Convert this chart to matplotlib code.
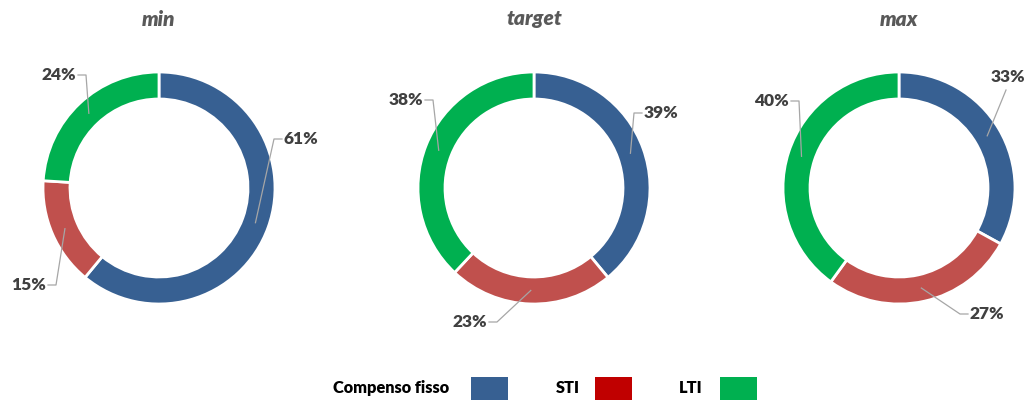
import numpy as np
import matplotlib.pyplot as plt
from matplotlib.patches import Rectangle

plt.rcParams['font.family'] = ['Lato', 'DejaVu Sans']

titoli = ['min', 'target', 'max']
categorie = ['Compenso fisso', 'STI', 'LTI']
valori = {
    'min': [61, 15, 24],
    'target': [39, 23, 38],
    'max': [33, 27, 40],
}
colori = ['#376092', '#C0504D', '#00B050']
colori_legenda = ['#376092', '#C00000', '#00B050']

W, H = 1030, 405
centri_x = [159, 534, 899]
cy = 188
R = 116
spessore = 27

# posizione del gomito della linea guida e lato del testo (coordinate immagine)
gomiti = {
    'min': [(274, 139, 'l'), (56, 285, 'r'), (86, 75, 'r')],
    'target': [(634, 113, 'l'), (497, 322, 'r'), (433, 100, 'r')],
    'max': [(1006, 90, 'c'), (960, 314, 'l'), (799, 101, 'r')],
}

fig = plt.figure(figsize=(W / 100, H / 100), dpi=100)
ax = fig.add_axes([0, 0, 1, 1])
ax.set_xlim(0, W)
ax.set_ylim(0, H)
ax.set_aspect('equal')
ax.axis('off')

def Y(y):
    return H - y

testo_col = '#404040'
fs_lbl = 12.5

for t, cx in zip(titoli, centri_x):
    vals = valori[t]
    ax.pie(vals, colors=colori, startangle=90, counterclock=False,
           radius=R, center=(cx, Y(cy)), frame=True,
           wedgeprops=dict(width=spessore, edgecolor='white', linewidth=2))
    ax.text(cx, Y(19), t, ha='center', va='center', fontsize=15,
            fontweight='heavy', style='italic', color='#595959')

    tot = sum(vals)
    cum = 0
    for v, (ex, ey, lato) in zip(vals, gomiti[t]):
        mid = (cum + v / 2) / tot
        cum += v
        ang = np.deg2rad(90 - mid * 360)
        rm = R - spessore / 2
        px = cx + rm * np.cos(ang)
        py = cy - rm * np.sin(ang)
        lbl = f'{round(v / tot * 100)}%'
        if lato == 'l':
            ax.plot([px, ex, ex + 8], [Y(py), Y(ey), Y(ey)], color='#A6A6A6', lw=0.9)
            ax.text(ex + 10, Y(ey), lbl, ha='left', va='center', fontsize=fs_lbl,
                    fontweight='heavy', color=testo_col)
        elif lato == 'r':
            ax.plot([px, ex, ex - 8], [Y(py), Y(ey), Y(ey)], color='#A6A6A6', lw=0.9)
            ax.text(ex - 10, Y(ey), lbl, ha='right', va='center', fontsize=fs_lbl,
                    fontweight='heavy', color=testo_col)
        else:
            ax.plot([px, ex], [Y(py), Y(ey)], color='#A6A6A6', lw=0.9)
            ax.text(ex + 2, Y(ey - 13), lbl, ha='center', va='center', fontsize=fs_lbl,
                    fontweight='heavy', color=testo_col)

# legenda
leg_testo_x = [449, 580, 703]
leg_patch_x = [471, 595, 720]
for nome, col, tx, px in zip(categorie, colori_legenda, leg_testo_x, leg_patch_x):
    ax.text(tx, Y(388), nome, ha='right', va='center', fontsize=11.8,
            fontweight='heavy', color='black')
    ax.add_patch(Rectangle((px, Y(400)), 37, 23, facecolor=col, edgecolor='none'))

ax.set_xlim(0, W)
ax.set_ylim(0, H)

fig.savefig('out.png', dpi=100)
